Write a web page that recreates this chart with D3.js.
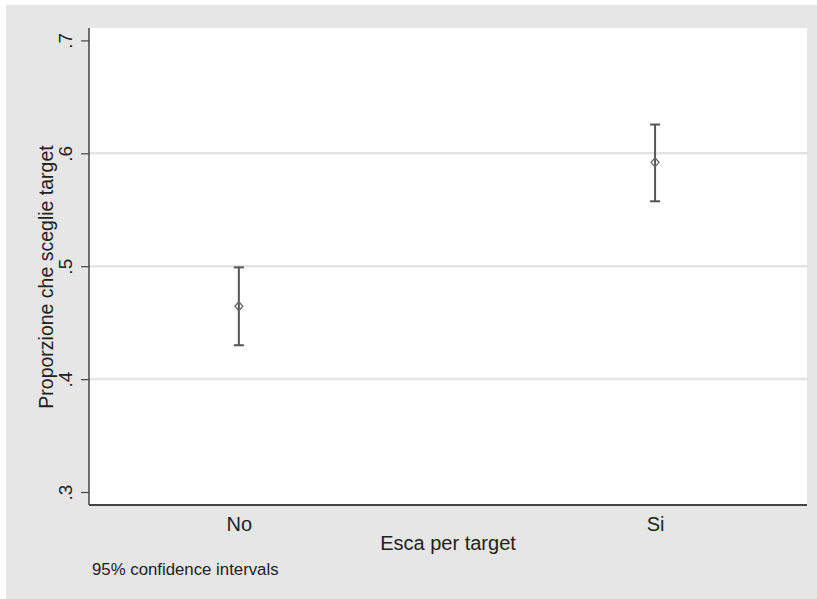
<!DOCTYPE html>
<html><head><meta charset="utf-8">
<script src="https://cdn.jsdelivr.net/npm/d3@7"></script>
<style>body{margin:0;background:#fff}svg{display:block}text{font-family:Arial,"Liberation Sans",sans-serif}</style>
</head><body><svg id="c" width="817" height="599"></svg>
<script>
const categories = ["No", "Si"];
const means = [0.4645, 0.592];
const lower = [0.430, 0.5575];
const upper = [0.499, 0.6255];
const yTicks = [0.3, 0.4, 0.5, 0.6, 0.7];
const yTickLabels = [".3", ".4", ".5", ".6", ".7"];
const gridTicks = [0.4, 0.5, 0.6];

const svg = d3.select("#c");
const W = 817, H = 599;
const m = {l: 89, r: 807, t: 28, b: 505};

svg.append("rect").attr("x", 6).attr("y", 5).attr("width", W - 6).attr("height", H - 5).attr("fill", "#e6e6e6");
svg.append("rect").attr("x", m.l).attr("y", m.t).attr("width", m.r - m.l).attr("height", m.b - m.t).attr("fill", "#ffffff");

const x = d3.scaleLinear().domain([0.64, 2.365]).range([m.l, m.r]);
const y = d3.scaleLinear().domain([0.2885, 0.711]).range([m.b, m.t]);

// gridlines
svg.append("g").selectAll("line").data(gridTicks).join("line")
  .attr("x1", m.l).attr("x2", m.r).attr("y1", d => y(d)).attr("y2", d => y(d))
  .attr("stroke", "#e4e4e4").attr("stroke-width", 2.5);

// y axis
const yAxis = d3.axisLeft(y).tickValues(yTicks).tickSize(8).tickFormat((d, i) => yTickLabels[i]);
const gy = svg.append("g").attr("transform", `translate(${m.l},0)`).call(yAxis);
gy.select(".domain").attr("d", `M0,${m.t}V${m.b}`).attr("stroke", "#444").attr("stroke-width", 1.5);
gy.selectAll(".tick line").attr("stroke", "#444").attr("stroke-width", 1.2);
gy.selectAll(".tick text").attr("x", 0).attr("dy", 0)
  .attr("transform", "translate(-17,0) rotate(-90)")
  .attr("text-anchor", "middle").attr("fill", "#222").style("font-size", "19px");

// x axis
const xAxis = d3.axisBottom(x).tickValues([1, 2]).tickSize(0).tickFormat((d, i) => categories[i]);
const gx = svg.append("g").attr("transform", `translate(0,${m.b})`).call(xAxis);
gx.select(".domain").attr("d", `M${m.l},0H${m.r}`).attr("stroke", "#444").attr("stroke-width", 2);
gx.selectAll(".tick text").attr("y", 26).attr("dy", 0).attr("fill", "#222").style("font-size", "20px");

// error bars
const g = svg.append("g");
const data = categories.map((c, i) => ({i, c, m: means[i], lo: lower[i], hi: upper[i]}));
g.selectAll("line.v").data(data).join("line").attr("class", "v")
  .attr("x1", d => x(d.i + 1)).attr("x2", d => x(d.i + 1))
  .attr("y1", d => y(d.lo)).attr("y2", d => y(d.hi))
  .attr("stroke", "#555").attr("stroke-width", 2);
["lo", "hi"].forEach(k => {
  g.selectAll("line.c" + k).data(data).join("line").attr("class", "c" + k)
    .attr("x1", d => x(d.i + 1) - 5).attr("x2", d => x(d.i + 1) + 5)
    .attr("y1", d => y(d[k])).attr("y2", d => y(d[k]))
    .attr("stroke", "#555").attr("stroke-width", 2);
});
g.selectAll("path.pt").data(data).join("path").attr("class", "pt")
  .attr("transform", d => `translate(${x(d.i + 1)},${y(d.m)})`)
  .attr("d", "M0,-4.5L4,0L0,4.5L-4,0Z")
  .attr("fill", "none").attr("stroke", "#666").attr("stroke-width", 1.3);

// titles
svg.append("text").attr("x", 448).attr("y", 550).attr("text-anchor", "middle")
  .attr("fill", "#222").style("font-size", "20px").text("Esca per target");
svg.append("text").attr("transform", `translate(53,277) rotate(-90)`).attr("text-anchor", "middle")
  .attr("fill", "#222").style("font-size", "19.5px").text("Proporzione che sceglie target");
svg.append("text").attr("x", 92).attr("y", 575).attr("fill", "#222").style("font-size", "16.8px").text("95% confidence intervals");
</script></body></html>
